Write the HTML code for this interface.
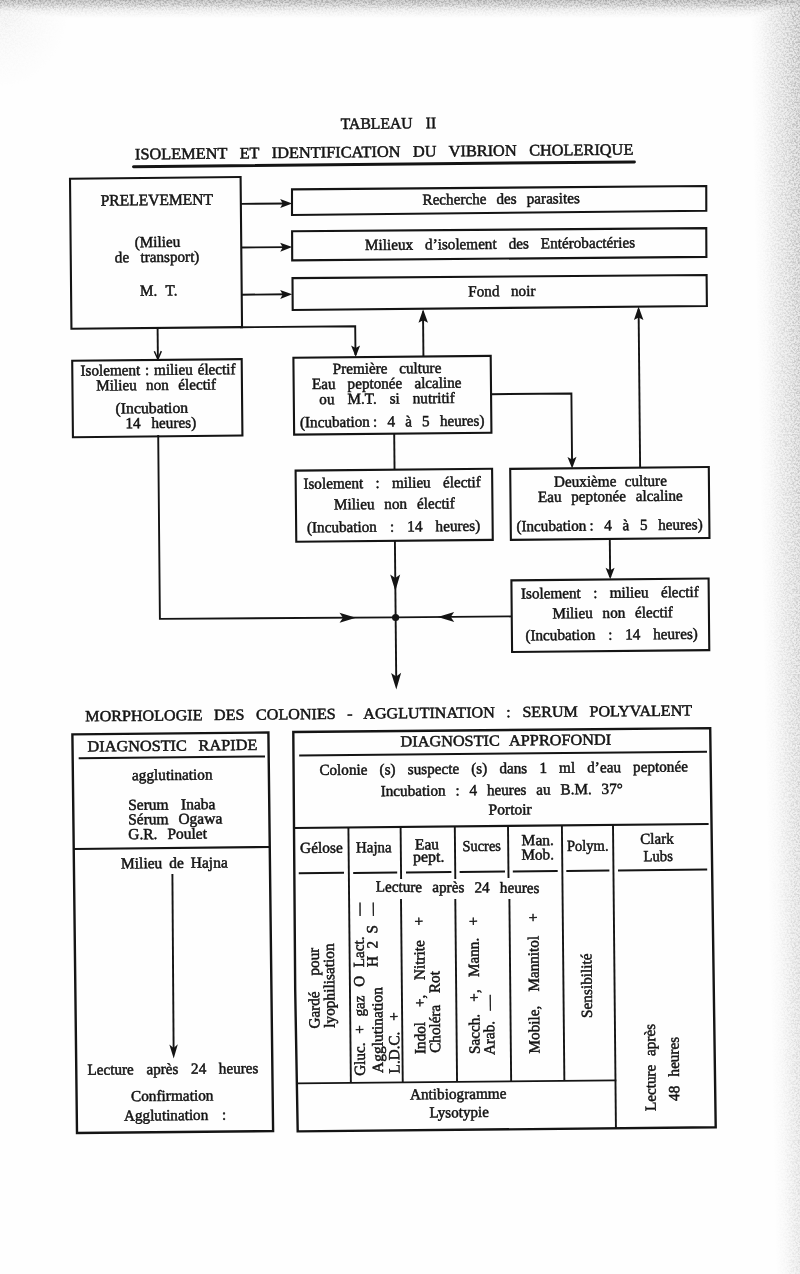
<!DOCTYPE html>
<html><head><meta charset="utf-8"><title>Tableau II</title>
<style>
html,body{margin:0;padding:0;background:#fff;}
body{width:800px;height:1274px;overflow:hidden;position:relative;font-family:"Liberation Serif",serif;}
svg{position:absolute;left:0;top:0;display:block}
text{font-family:"Liberation Serif",serif;fill:#141414;stroke:#141414;stroke-width:0.5px;white-space:pre;}
</style></head><body>
<svg width="800" height="1274" viewBox="0 0 800 1274">
<defs>
<linearGradient id="gt" x1="0" y1="0" x2="0" y2="1"><stop offset="0" stop-color="#fff"/><stop offset="0.3" stop-color="#c8c8c8"/><stop offset="0.6" stop-color="#4a4a4a"/><stop offset="1" stop-color="#000"/></linearGradient>
<linearGradient id="gr" x1="0" y1="0" x2="1" y2="0"><stop offset="0" stop-color="#000"/><stop offset="0.12" stop-color="#1c1c1c"/><stop offset="0.3" stop-color="#6a6a6a"/><stop offset="0.62" stop-color="#f4f4f4"/><stop offset="1" stop-color="#fff"/></linearGradient>
<radialGradient id="gc" gradientUnits="userSpaceOnUse" cx="0" cy="0" r="90" gradientTransform="scale(0.8 1)"><stop offset="0" stop-color="#484848"/><stop offset="0.5" stop-color="#181818"/><stop offset="1" stop-color="#000"/></radialGradient>
<mask id="edge" maskUnits="userSpaceOnUse" x="0" y="0" width="800" height="1274">
<rect x="0" y="0" width="800" height="1274" fill="#000"/>
<rect x="0" y="0" width="120" height="100" fill="url(#gc)"/>
<rect x="0" y="0" width="800" height="18" fill="url(#gt)" style="mix-blend-mode:lighten"/>
<rect x="750" y="0" width="80" height="1274" fill="url(#gr)" transform="skewX(1.17)" style="mix-blend-mode:lighten"/>
</mask>
<filter id="noise" x="0" y="0" width="100%" height="100%" color-interpolation-filters="sRGB"><feTurbulence type="fractalNoise" baseFrequency="0.55" numOctaves="3" seed="7" result="n"/><feColorMatrix in="n" type="matrix" values="0 0 0 0 0.62  0 0 0 0 0.62  0 0 0 0 0.62  3.2 0 0 0 -1.25"/></filter>
</defs>
<rect x="0" y="0" width="800" height="1274" fill="#fefefe"/>
<g mask="url(#edge)"><rect x="0" y="0" width="800" height="1274" fill="#e2e2e2"/><rect x="0" y="0" width="800" height="1274" filter="url(#noise)" opacity="0.7"/></g>
<linearGradient id="gd" x1="0" y1="0" x2="0" y2="1"><stop offset="0" stop-color="#000" stop-opacity="0.07"/><stop offset="1" stop-color="#000" stop-opacity="0"/></linearGradient>
<rect x="0" y="0" width="800" height="8" fill="url(#gd)"/>
<g>
<text x="-48.72" y="0" font-size="16" style="word-spacing:9.41px" transform="translate(388.50 128.60) rotate(-0.55) scale(0.9800 1)">TABLEAU II</text>
<text x="-244.36" y="0" font-size="16" style="word-spacing:8.24px" transform="translate(384.25 157.00) rotate(-0.55) scale(1.0200 1)">ISOLEMENT ET IDENTIFICATION DU VIBRION CHOLERIQUE</text>
<line x1="133.50" y1="166.70" x2="634.40" y2="161.89" stroke="#141414" stroke-width="3.0" stroke-linecap="round"/>
<rect x="70.00" y="178.70" width="170.60" height="150.10" fill="none" stroke="#141414" stroke-width="2.1" transform="rotate(-0.55 70.00 178.70)"/>
<text x="-57.77" y="0" font-size="16" style="word-spacing:0.00px" transform="translate(156.90 205.10) rotate(-0.55) scale(0.9727 1)">PRELEVEMENT</text>
<text x="-23.25" y="0" font-size="15.5" style="word-spacing:0.00px" transform="translate(157.55 247.00) rotate(-0.55) scale(0.9787 1)">(Milieu</text>
<text x="-43.21" y="0" font-size="15.5" style="word-spacing:7.66px" transform="translate(157.15 262.00) rotate(-0.55) scale(0.9800 1)">de transport)</text>
<text x="-19.13" y="0" font-size="15.5" style="word-spacing:4.82px" transform="translate(158.75 295.60) rotate(-0.55) scale(0.9800 1)">M. T.</text>
<polygon points="292.00,189.40 706.25,186.00 706.30,210.80 292.00,215.00" fill="none" stroke="#141414" stroke-width="2.1" stroke-linejoin="miter"/>
<polygon points="292.10,231.25 706.25,228.10 706.40,256.90 292.20,260.40" fill="none" stroke="#141414" stroke-width="2.1" stroke-linejoin="miter"/>
<polygon points="292.50,278.10 706.60,275.00 706.90,306.00 292.70,310.00" fill="none" stroke="#141414" stroke-width="2.1" stroke-linejoin="miter"/>
<text x="-80.36" y="0" font-size="15.5" style="word-spacing:6.34px" transform="translate(501.25 203.90) rotate(-0.55) scale(0.9800 1)">Recherche des parasites</text>
<text x="-138.01" y="0" font-size="15.5" style="word-spacing:8.36px" transform="translate(500.25 248.80) rotate(-0.55) scale(0.9800 1)">Milieux d’isolement des Entérobactéries</text>
<text x="-34.31" y="0" font-size="15.5" style="word-spacing:7.91px" transform="translate(501.88 296.20) rotate(-0.55) scale(0.9800 1)">Fond noir</text>
<polyline points="241.00,203.90 288.00,203.50" fill="none" stroke="#141414" stroke-width="1.9" stroke-linejoin="miter"/>
<path d="M0,0 L-12,-4.5 L-9.5,0 L-12,4.5 Z" fill="#141414" transform="translate(292.20 203.50) rotate(-0.55)"/>
<polyline points="241.00,247.50 288.00,247.10" fill="none" stroke="#141414" stroke-width="1.9" stroke-linejoin="miter"/>
<path d="M0,0 L-12,-4.5 L-9.5,0 L-12,4.5 Z" fill="#141414" transform="translate(292.20 247.10) rotate(-0.55)"/>
<polyline points="241.00,294.70 288.00,294.30" fill="none" stroke="#141414" stroke-width="1.9" stroke-linejoin="miter"/>
<path d="M0,0 L-12,-4.5 L-9.5,0 L-12,4.5 Z" fill="#141414" transform="translate(292.20 294.30) rotate(-0.55)"/>
<polyline points="240.00,327.25 355.20,326.20 355.50,355.00" fill="none" stroke="#141414" stroke-width="1.9" stroke-linejoin="miter"/>
<path d="M0,0 L-11.5,-4.5 L-9.0,0 L-11.5,4.5 Z" fill="#141414" transform="translate(355.70 357.00) rotate(89.45)"/>
<polyline points="157.60,328.30 157.89,358.00" fill="none" stroke="#141414" stroke-width="1.9" stroke-linejoin="miter"/>
<path d="M-8,-3.5 L0,0 L-8,3.5" fill="none" stroke="#141414" stroke-width="1.5" transform="translate(157.90 359.20) rotate(89.45)"/>
<rect x="72.20" y="360.80" width="169.50" height="76.40" fill="none" stroke="#141414" stroke-width="2.1" transform="rotate(-0.55 72.20 360.80)"/>
<text x="-79.21" y="0" font-size="15.5" style="word-spacing:1.01px" transform="translate(158.12 374.90) rotate(-0.55) scale(0.9800 1)">Isolement : milieu électif</text>
<text x="-61.22" y="0" font-size="15.5" style="word-spacing:5.70px" transform="translate(156.25 390.00) rotate(-0.55) scale(0.9800 1)">Milieu non électif</text>
<text x="-35.72" y="0" font-size="15.5" style="word-spacing:0.00px" transform="translate(151.88 413.10) rotate(-0.55) scale(1.0183 1)">(Incubation</text>
<text x="-36.10" y="0" font-size="15.5" style="word-spacing:7.20px" transform="translate(160.88 428.00) rotate(-0.55) scale(0.9800 1)">14 heures)</text>
<polyline points="158.20,435.00 159.90,618.90 395.20,617.40" fill="none" stroke="#141414" stroke-width="1.9" stroke-linejoin="miter"/>
<path d="M0,0 L-16.5,-5.0 L-13.0,0 L-16.5,5.0 Z" fill="#141414" transform="translate(356.00 617.65) rotate(-0.55)"/>
<rect x="293.40" y="357.80" width="197.30" height="76.80" fill="none" stroke="#141414" stroke-width="2.1" transform="rotate(-0.55 293.40 357.80)"/>
<text x="-55.46" y="0" font-size="15.5" style="word-spacing:8.06px" transform="translate(387.15 373.40) rotate(-0.55) scale(0.9800 1)">Première culture</text>
<text x="-76.43" y="0" font-size="15.5" style="word-spacing:8.44px" transform="translate(386.80 388.40) rotate(-0.55) scale(0.9800 1)">Eau peptonée alcaline</text>
<text x="-69.23" y="0" font-size="15.5" style="word-spacing:9.37px" transform="translate(387.15 403.60) rotate(-0.55) scale(0.9800 1)">ou M.T. si nutritif</text>
<text x="-94.23" y="0" font-size="15.5" style="word-spacing:6.53px" transform="translate(392.35 426.50) rotate(-0.55) scale(0.9800 1)">(Incubation : 4 à 5 heures)</text>
<polyline points="423.00,311.50 423.43,356.00" fill="none" stroke="#141414" stroke-width="1.9" stroke-linejoin="miter"/>
<path d="M0,0 L-13.5,-4.75 L-11.0,0 L-13.5,4.75 Z" fill="#141414" transform="translate(423.10 309.20) rotate(-90.55)"/>
<polyline points="490.60,394.20 571.40,393.50 572.10,466.00" fill="none" stroke="#141414" stroke-width="1.9" stroke-linejoin="miter"/>
<path d="M0,0 L-11.5,-4.5 L-9.0,0 L-11.5,4.5 Z" fill="#141414" transform="translate(572.10 468.40) rotate(89.45)"/>
<polyline points="394.20,434.00 394.54,469.50" fill="none" stroke="#141414" stroke-width="1.9" stroke-linejoin="miter"/>
<rect x="295.60" y="470.60" width="196.50" height="71.20" fill="none" stroke="#141414" stroke-width="2.1" transform="rotate(-0.55 295.60 470.60)"/>
<text x="-90.61" y="0" font-size="15.5" style="word-spacing:8.62px" transform="translate(392.20 487.90) rotate(-0.55) scale(0.9800 1)">Isolement : milieu électif</text>
<text x="-61.73" y="0" font-size="15.5" style="word-spacing:6.21px" transform="translate(394.50 508.90) rotate(-0.55) scale(0.9800 1)">Milieu non électif</text>
<text x="-88.47" y="0" font-size="15.5" style="word-spacing:9.48px" transform="translate(393.70 531.60) rotate(-0.55) scale(0.9800 1)">(Incubation : 14 heures)</text>
<polyline points="394.90,540.50 396.28,684.00" fill="none" stroke="#141414" stroke-width="1.9" stroke-linejoin="miter"/>
<path d="M0,0 L-16.5,-5.0 L-13.0,0 L-16.5,5.0 Z" fill="#141414" transform="translate(395.35 591.00) rotate(89.45)"/>
<path d="M0,0 L-16.5,-5.0 L-13.0,0 L-16.5,5.0 Z" fill="#141414" transform="translate(396.30 689.40) rotate(89.45)"/>
<circle cx="395.6" cy="617.5" r="3.6" fill="#141414"/>
<rect x="510.20" y="468.90" width="198.60" height="71.00" fill="none" stroke="#141414" stroke-width="2.1" transform="rotate(-0.55 510.20 468.90)"/>
<text x="-57.65" y="0" font-size="15.5" style="word-spacing:4.70px" transform="translate(610.50 486.30) rotate(-0.55) scale(0.9800 1)">Deuxième culture</text>
<text x="-73.98" y="0" font-size="15.5" style="word-spacing:5.99px" transform="translate(610.50 501.30) rotate(-0.55) scale(0.9800 1)">Eau peptonée alcaline</text>
<text x="-95.20" y="0" font-size="15.5" style="word-spacing:7.01px" transform="translate(609.70 530.40) rotate(-0.55) scale(0.9800 1)">(Incubation : 4 à 5 heures)</text>
<polyline points="638.60,309.50 640.12,467.50" fill="none" stroke="#141414" stroke-width="1.9" stroke-linejoin="miter"/>
<path d="M0,0 L-13.5,-4.75 L-11.0,0 L-13.5,4.75 Z" fill="#141414" transform="translate(638.55 306.50) rotate(-90.55)"/>
<polyline points="609.80,539.00 610.16,577.00" fill="none" stroke="#141414" stroke-width="1.9" stroke-linejoin="miter"/>
<path d="M0,0 L-11.5,-4.5 L-9.0,0 L-11.5,4.5 Z" fill="#141414" transform="translate(610.20 579.20) rotate(89.45)"/>
<rect x="511.40" y="580.40" width="197.20" height="71.60" fill="none" stroke="#141414" stroke-width="2.1" transform="rotate(-0.55 511.40 580.40)"/>
<text x="-90.82" y="0" font-size="15.5" style="word-spacing:8.75px" transform="translate(610.00 597.80) rotate(-0.55) scale(0.9800 1)">Isolement : milieu électif</text>
<text x="-61.53" y="0" font-size="15.5" style="word-spacing:6.01px" transform="translate(612.70 617.80) rotate(-0.55) scale(0.9800 1)">Milieu non électif</text>
<text x="-88.06" y="0" font-size="15.5" style="word-spacing:9.21px" transform="translate(611.70 639.60) rotate(-0.55) scale(0.9800 1)">(Incubation : 14 heures)</text>
<polyline points="511.60,616.40 395.20,617.40" fill="none" stroke="#141414" stroke-width="1.9" stroke-linejoin="miter"/>
<path d="M0,0 L-16.5,-5.0 L-13.0,0 L-16.5,5.0 Z" fill="#141414" transform="translate(437.70 617.10) rotate(179.45)"/>
<text x="-292.07" y="0" font-size="15.5" style="word-spacing:7.25px" transform="translate(389.05 718.40) rotate(-0.55) scale(1.0400 1)">MORPHOLOGIE DES COLONIES - AGGLUTINATION : SERUM POLYVALENT</text>
<polygon points="72.40,734.40 268.40,732.50 273.10,1131.10 77.00,1133.00" fill="none" stroke="#141414" stroke-width="2.4" stroke-linejoin="miter"/>
<text x="-80.95" y="0" font-size="15.5" style="word-spacing:7.33px" transform="translate(172.50 750.70) rotate(-0.55) scale(1.0500 1)">DIAGNOSTIC RAPIDE</text>
<line x1="78.70" y1="758.30" x2="265.00" y2="756.51" stroke="#141414" stroke-width="2.0" stroke-linecap="butt"/>
<text x="-40.89" y="0" font-size="15.5" style="word-spacing:0.00px" transform="translate(172.30 779.90) rotate(-0.55) scale(0.9855 1)">agglutination</text>
<text x="-43.60" y="0" font-size="15.5" style="word-spacing:8.44px" transform="translate(171.80 809.50) rotate(-0.55) scale(1.0000 1)">Serum Inaba</text>
<text x="-47.05" y="0" font-size="15.5" style="word-spacing:5.86px" transform="translate(175.25 824.00) rotate(-0.55) scale(1.0000 1)">Sérum Ogawa</text>
<text x="-39.40" y="0" font-size="15.5" style="word-spacing:6.03px" transform="translate(167.60 838.90) rotate(-0.55) scale(1.0000 1)">G.R. Poulet</text>
<polyline points="73.70,849.00 269.70,847.00" fill="none" stroke="#141414" stroke-width="2.1" stroke-linejoin="miter"/>
<text x="-53.38" y="0" font-size="15.5" style="word-spacing:3.02px" transform="translate(174.38 868.00) rotate(-0.55) scale(1.0000 1)">Milieu de Hajna</text>
<polyline points="172.40,874.00 173.60,1048.00" fill="none" stroke="#141414" stroke-width="1.9" stroke-linejoin="miter"/>
<path d="M0,0 L-14,-4.25 L-10.5,0 L-14,4.25 Z" fill="#141414" transform="translate(173.70 1058.40) rotate(89.5)"/>
<text x="-87.30" y="0" font-size="15.5" style="word-spacing:9.00px" transform="translate(173.05 1074.00) rotate(-0.55) scale(0.9800 1)">Lecture après 24 heures</text>
<text x="-41.76" y="0" font-size="15.5" style="word-spacing:0.00px" transform="translate(172.25 1100.80) rotate(-0.55) scale(0.9878 1)">Confirmation</text>
<text x="-52.24" y="0" font-size="15.5" style="word-spacing:10.20px" transform="translate(175.20 1120.20) rotate(-0.55) scale(0.9800 1)">Agglutination :</text>
<polygon points="293.30,732.00 710.20,728.10 715.70,1127.30 297.70,1131.40 295.20,990.00" fill="none" stroke="#141414" stroke-width="2.4" stroke-linejoin="miter"/>
<text x="-100.43" y="0" font-size="15.5" style="word-spacing:5.78px" transform="translate(505.95 745.60) rotate(-0.55) scale(1.0500 1)">DIAGNOSTIC APPROFONDI</text>
<line x1="299.20" y1="755.60" x2="707.00" y2="751.69" stroke="#141414" stroke-width="2.0" stroke-linecap="butt"/>
<text x="-188.16" y="0" font-size="15.5" style="word-spacing:8.52px" transform="translate(503.80 773.30) rotate(-0.55) scale(0.9800 1)">Colonie (s) suspecte (s) dans 1 ml d’eau peptonée</text>
<text x="-123.62" y="0" font-size="15.5" style="word-spacing:6.17px" transform="translate(501.85 795.00) rotate(-0.55) scale(0.9800 1)">Incubation : 4 heures au B.M. 37°</text>
<text x="-21.53" y="0" font-size="15.5" style="word-spacing:0.00px" transform="translate(510.15 814.50) rotate(-0.55) scale(1.0056 1)">Portoir</text>
<line x1="294.20" y1="828.00" x2="708.60" y2="824.02" stroke="#141414" stroke-width="2.2" stroke-linecap="butt"/>
<text x="-21.52" y="0" font-size="15.5" style="word-spacing:0.00px" transform="translate(321.38 852.80) rotate(-0.55) scale(0.9933 1)">Gélose</text>
<text x="-18.50" y="0" font-size="15.5" style="word-spacing:0.00px" transform="translate(373.85 852.30) rotate(-0.55) scale(0.9646 1)">Hajna</text>
<text x="-12.05" y="0" font-size="15.5" style="word-spacing:0.00px" transform="translate(427.00 849.40) rotate(-0.55) scale(0.9959 1)">Eau</text>
<text x="-15.28" y="0" font-size="15.5" style="word-spacing:0.00px" transform="translate(428.75 861.80) rotate(-0.55) scale(1.0307 1)">pept.</text>
<text x="-20.66" y="0" font-size="15.5" style="word-spacing:0.00px" transform="translate(481.70 851.00) rotate(-0.55) scale(0.9341 1)">Sucres</text>
<text x="-16.14" y="0" font-size="15.5" style="word-spacing:0.00px" transform="translate(537.75 845.20) rotate(-0.55) scale(1.0066 1)">Man.</text>
<text x="-16.58" y="0" font-size="15.5" style="word-spacing:0.00px" transform="translate(537.75 859.60) rotate(-0.55) scale(0.9802 1)">Mob.</text>
<text x="-22.18" y="0" font-size="15.5" style="word-spacing:0.00px" transform="translate(587.75 850.80) rotate(-0.55) scale(0.9401 1)">Polym.</text>
<text x="-17.22" y="0" font-size="15.5" style="word-spacing:0.00px" transform="translate(657.00 843.80) rotate(-0.55) scale(0.9757 1)">Clark</text>
<text x="-15.50" y="0" font-size="15.5" style="word-spacing:0.00px" transform="translate(658.25 861.20) rotate(-0.55) scale(0.9516 1)">Lubs</text>
<line x1="298.75" y1="873.30" x2="344.00" y2="872.87" stroke="#141414" stroke-width="2.0" stroke-linecap="butt"/>
<line x1="353.20" y1="872.90" x2="397.20" y2="872.48" stroke="#141414" stroke-width="2.0" stroke-linecap="butt"/>
<line x1="406.00" y1="872.40" x2="451.40" y2="871.96" stroke="#141414" stroke-width="2.0" stroke-linecap="butt"/>
<line x1="459.60" y1="871.90" x2="505.00" y2="871.46" stroke="#141414" stroke-width="2.0" stroke-linecap="butt"/>
<line x1="512.80" y1="871.40" x2="557.70" y2="870.97" stroke="#141414" stroke-width="2.0" stroke-linecap="butt"/>
<line x1="566.30" y1="870.90" x2="609.40" y2="870.49" stroke="#141414" stroke-width="2.0" stroke-linecap="butt"/>
<line x1="618.00" y1="870.40" x2="707.20" y2="869.54" stroke="#141414" stroke-width="2.0" stroke-linecap="butt"/>
<polyline points="348.40,827.00 350.86,1083.00" fill="none" stroke="#141414" stroke-width="1.9" stroke-linejoin="miter"/>
<polyline points="400.60,826.50 401.10,879.00" fill="none" stroke="#141414" stroke-width="1.9" stroke-linejoin="miter"/>
<polyline points="401.00,899.00 402.76,1082.50" fill="none" stroke="#141414" stroke-width="1.9" stroke-linejoin="miter"/>
<polyline points="454.80,826.00 455.31,879.00" fill="none" stroke="#141414" stroke-width="1.9" stroke-linejoin="miter"/>
<polyline points="455.30,899.00 457.06,1082.00" fill="none" stroke="#141414" stroke-width="1.9" stroke-linejoin="miter"/>
<polyline points="508.00,825.50 508.50,878.00" fill="none" stroke="#141414" stroke-width="1.9" stroke-linejoin="miter"/>
<polyline points="509.40,899.00 511.15,1081.50" fill="none" stroke="#141414" stroke-width="1.9" stroke-linejoin="miter"/>
<polyline points="561.90,825.00 564.36,1081.00" fill="none" stroke="#141414" stroke-width="1.9" stroke-linejoin="miter"/>
<polyline points="613.00,824.50 615.92,1128.20" fill="none" stroke="#141414" stroke-width="1.9" stroke-linejoin="miter"/>
<text x="-83.60" y="0" font-size="15.5" style="word-spacing:6.53px" transform="translate(457.68 892.30) rotate(0.50) scale(0.9800 1)">Lecture après 24 heures</text>
<line x1="297.00" y1="1083.40" x2="616.30" y2="1080.33" stroke="#141414" stroke-width="1.9" stroke-linecap="butt"/>
<text x="-49.07" y="0" font-size="15.5" style="word-spacing:0.00px" transform="translate(458.25 1099.00) rotate(-0.55) scale(0.9832 1)">Antibiogramme</text>
<text x="-30.57" y="0" font-size="15.5" style="word-spacing:0.00px" transform="translate(459.20 1117.30) rotate(-0.55) scale(0.9749 1)">Lysotypie</text>
<text x="-41.28" y="0" font-size="15.5" style="word-spacing:12.40px" transform="translate(319.20 988.05) rotate(-90.55) scale(0.9800 1)">Gardé pour</text>
<text x="-42.62" y="0" font-size="15.5" style="word-spacing:0.00px" transform="translate(334.30 985.55) rotate(-90.55) scale(0.9912 1)">lyophilisation</text>
<text x="-71.12" y="0" font-size="15.5" style="word-spacing:4.97px" transform="translate(364.40 1006.00) rotate(-90.55) scale(0.9800 1)">Gluc. + gaz O Lact.</text>
<text x="-7.75" y="0" font-size="15.5" style="word-spacing:0.00px" transform="translate(363.60 909.20) rotate(-90.55) scale(0.8387 1)">—</text>
<text x="-43.05" y="0" font-size="15.5" style="word-spacing:0.00px" transform="translate(382.60 1030.00) rotate(-90.55) scale(0.9988 1)">Agglutination</text>
<text x="-21.48" y="0" font-size="15.5" style="word-spacing:3.82px" transform="translate(377.40 945.95) rotate(-90.55) scale(0.9800 1)">H 2 S</text>
<text x="-7.75" y="0" font-size="15.5" style="word-spacing:0.00px" transform="translate(376.90 909.20) rotate(-90.55) scale(0.8387 1)">—</text>
<text x="-31.22" y="0" font-size="15.5" style="word-spacing:7.21px" transform="translate(399.20 1042.80) rotate(-90.55) scale(0.9800 1)">L.D.C. +</text>
<text x="-70.03" y="0" font-size="15.5" style="word-spacing:11.30px" transform="translate(424.70 985.38) rotate(-90.55) scale(0.9800 1)">Indol +, Nitrite +</text>
<text x="-41.73" y="0" font-size="15.5" style="word-spacing:8.13px" transform="translate(439.90 1011.90) rotate(-90.55) scale(0.9800 1)">Choléra Rot</text>
<text x="-70.03" y="0" font-size="15.5" style="word-spacing:8.72px" transform="translate(479.00 985.38) rotate(-90.55) scale(0.9800 1)">Sacch. +, Mann. +</text>
<text x="-30.61" y="0" font-size="15.5" style="word-spacing:6.99px" transform="translate(494.20 1025.00) rotate(-90.55) scale(0.9800 1)">Arab. —</text>
<text x="-71.63" y="0" font-size="15.5" style="word-spacing:10.65px" transform="translate(538.80 983.20) rotate(-90.55) scale(0.9800 1)">Mobile, Mannitol +</text>
<text x="-32.72" y="0" font-size="15.5" style="word-spacing:0.00px" transform="translate(591.80 985.70) rotate(-90.55) scale(0.9871 1)">Sensibilité</text>
<text x="-44.49" y="0" font-size="15.5" style="word-spacing:5.08px" transform="translate(655.40 1067.40) rotate(-90.55) scale(0.9800 1)">Lecture après</text>
<text x="-32.70" y="0" font-size="15.5" style="word-spacing:5.58px" transform="translate(678.90 1068.85) rotate(-90.55) scale(0.9800 1)">48 heures</text>
</g>
</svg>
</body></html>
